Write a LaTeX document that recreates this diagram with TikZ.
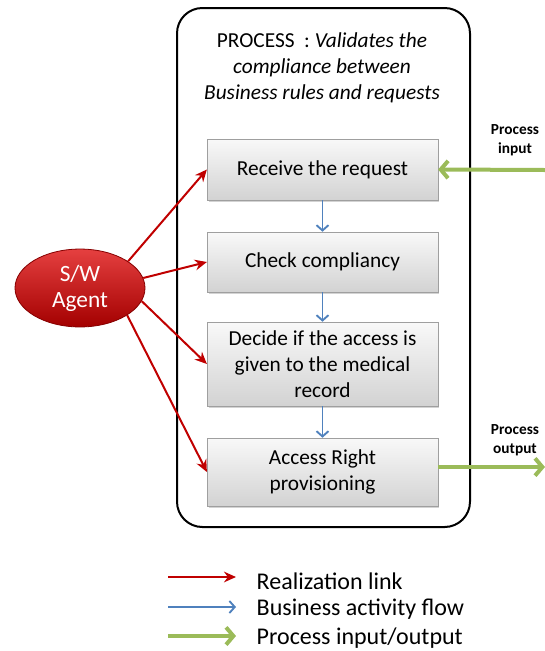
\documentclass[tikz,border=0pt]{standalone}
\usepackage{fontspec}
\setmainfont{Carlito}
\usetikzlibrary{arrows.meta,shapes.geometric,shadows}
\definecolor{realred}{HTML}{C00000}
\definecolor{flowblue}{HTML}{4F81BD}
\definecolor{iogreen}{HTML}{9BBB59}

\begin{document}
\begin{tikzpicture}[x=0.75pt,y=-0.75pt,
  stepbox/.style={draw=gray!75, top color=gray!5, bottom color=gray!35,
    drop shadow={opacity=0.35, shadow xshift=1.2pt, shadow yshift=-1.2pt},
    minimum width=173pt, align=center, font=\fontsize{16}{19.5}\selectfont},
  reallink/.style={draw=realred, line width=1.5pt, -{Stealth[length=9pt,width=8pt]}},
  flowlink/.style={draw=flowblue, line width=1.4pt, -{Straight Barb[length=4pt,width=9pt]}},
  iolink/.style={draw=iogreen, line width=3pt, -{Straight Barb[length=5.5pt,width=13pt]}},
  iolabel/.style={font=\fontsize{11.5}{14}\selectfont\bfseries, align=center},
  legtext/.style={anchor=west, font=\fontsize{18}{20}\selectfont}]
\useasboundingbox (0,0) rectangle (545,651);

% process frame and title
\node[draw, line width=1.5pt, rounded corners=19pt, minimum width=219.75pt,
  minimum height=389.25pt] (process) at (323.5,267.5) {};
\node[align=center, font=\fontsize{16}{19.5}\selectfont] (title) at (322,68)
  {PROCESS\ \ : \textit{Validates the}\\ \textit{compliance between}\\
   \textit{Business rules and requests}};

% activities
\node[stepbox, minimum height=45.75pt] (receive) at (322.5,169.5) {Receive the request};
\node[stepbox, minimum height=45pt] (check) at (322.5,262) {Check compliancy};
\node[stepbox, minimum height=63pt] (decide) at (322.5,364)
  {Decide if the access is\\ given to the medical\\ record};
\node[stepbox, minimum height=51pt] (provision) at (322.5,472)
  {Access Right\\ provisioning};

\draw[flowlink] (receive) -- (check);
\draw[flowlink] (check) -- (decide);
\draw[flowlink] (decide) -- (provision);

% agent
\node[ellipse, draw=realred!70!black, line width=0.6pt, top color=red!45!realred!75!white,
  bottom color=realred!85!black, minimum width=97.5pt, minimum height=52.5pt,
  text=white, align=center, font=\fontsize{17.5}{19.5}\selectfont] (agent) at (80,288)
  {S/W\\ Agent};

\draw[reallink] (agent.29) -- (receive.west);
\draw[reallink] (agent.9) -- (check.west);
\draw[reallink] (agent.-12) -- (decide.west);
\draw[reallink] (agent.-30) -- (provision.west);

% input / output
\coordinate (inedge) at (545,170);
\coordinate (outedge) at (545,467);
\node[iolabel] (inlabel) at (515,140) {Process\\ input};
\node[iolabel] (outlabel) at (515,440) {Process\\ output};
\draw[iolink] (inedge) -- (receive.east);
\draw[iolink] (provision.east |- outedge) -- (outedge);

% legend
\coordinate (la) at (168,577);
\coordinate (lb) at (168,607);
\coordinate (lc) at (168,636);
\node[legtext] (lgred) at (252,581) {Realization link};
\node[legtext] (lgblue) at (252,609) {Business activity flow};
\node[legtext] (lggreen) at (252,638) {Process input/output};
\draw[reallink] (la) -- ++(68,0);
\draw[flowlink] (lb) -- ++(68,0);
\draw[iolink] (lc) -- ++(68,0);
\end{tikzpicture}
\end{document}
